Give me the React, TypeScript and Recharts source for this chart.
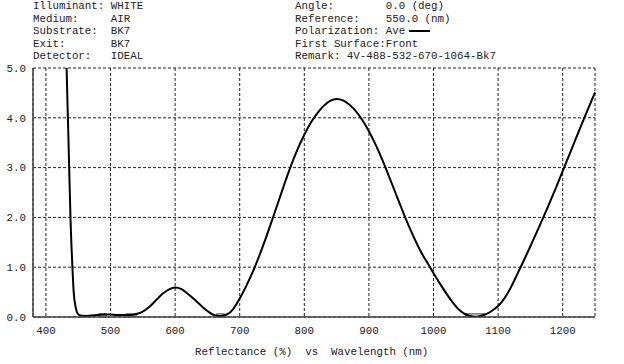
import React from "react";
import {
  LineChart,
  Line,
  XAxis,
  YAxis,
  CartesianGrid,
  ReferenceArea,
} from "recharts";

// wavelength (nm) and reflectance (%)
const wavelengths = [
  425, 430, 432, 434, 436, 438, 441, 443, 446, 449, 453, 460, 470, 480, 490,
  500, 510, 520, 530, 540, 550, 560, 570, 580, 590, 600, 610, 620, 630, 640,
  650, 660, 670, 680, 690, 700, 710, 720, 730, 740, 750, 760, 770, 780, 790,
  800, 810, 820, 830, 840, 850, 860, 870, 880, 890, 900, 910, 920, 930, 940,
  950, 960, 970, 980, 990, 1000, 1010, 1020, 1030, 1040, 1050, 1060, 1065,
  1070, 1080, 1090, 1100, 1110, 1120, 1130, 1140, 1150, 1160, 1170, 1180,
  1190, 1200, 1210, 1220, 1230, 1240, 1250,
];
const reflectance = [
  8.0, 6.0, 5.0, 4.0, 3.0, 2.0, 1.0, 0.5, 0.2, 0.07, 0.03, 0.02, 0.03, 0.04,
  0.05, 0.05, 0.04, 0.04, 0.04, 0.06, 0.11, 0.2, 0.33, 0.46, 0.55, 0.59, 0.56,
  0.46, 0.35, 0.23, 0.12, 0.04, 0.02, 0.05, 0.16, 0.37, 0.62, 0.9, 1.22, 1.57,
  1.94, 2.32, 2.7, 3.06, 3.38, 3.66, 3.9, 4.09, 4.24, 4.34, 4.38, 4.35, 4.26,
  4.13, 3.95, 3.73, 3.47, 3.18, 2.86, 2.53, 2.2, 1.88, 1.59, 1.32, 1.1, 0.88,
  0.67, 0.47, 0.29, 0.14, 0.05, 0.01, 0.0, 0.01, 0.05, 0.12, 0.22, 0.38, 0.6,
  0.87, 1.14, 1.42, 1.71, 2.0, 2.3, 2.61, 2.93, 3.25, 3.57, 3.89, 4.2, 4.51,
];

// design targets from the remark line (centre, half width in nm)
const targetCentres = [488, 532, 670, 1064];
const targetHalfWidths = [6, 8, 6, 15];

const xTicks = [400, 500, 600, 700, 800, 900, 1000, 1100, 1200];
const yTicks = [0, 1, 2, 3, 4, 5];

const headerLeft = [
  "Illuminant: WHITE",
  "Medium:     AIR",
  "Substrate:  BK7",
  "Exit:       BK7",
  "Detector:   IDEAL",
];
const headerRight = [
  "Angle:        0.0 (deg)",
  "Reference:    550.0 (nm)",
  "Polarization: Ave",
  "First Surface:Front",
  "Remark: 4V-488-532-670-1064-Bk7",
];

const data = wavelengths.map((w, i) => ({ wl: w, r: reflectance[i] }));

const mono = '"Liberation Mono", "Courier New", monospace';
const textStyle: React.CSSProperties = {
  position: "absolute",
  fontFamily: mono,
  fontSize: 10.8,
  lineHeight: "12.5px",
  color: "#222",
  whiteSpace: "pre",
};

export default function App() {
  return (
    <div
      style={{
        position: "absolute",
        left: 0,
        top: 0,
        width: 624,
        height: 364,
        background: "#fff",
      }}
    >
      {/* header block */}
      <div style={{ ...textStyle, left: 33, top: 0 }}>
        {headerLeft.map((t) => (
          <div key={t}>{t}</div>
        ))}
      </div>
      <div style={{ ...textStyle, left: 295, top: 0 }}>
        {headerRight.map((t) => (
          <div key={t}>
            {t}
            {t.startsWith("Polarization") && (
              <span
                style={{
                  display: "inline-block",
                  width: 21,
                  height: 2,
                  background: "#000",
                  marginLeft: 4,
                  verticalAlign: "middle",
                }}
              />
            )}
          </div>
        ))}
      </div>

      <LineChart
        width={624}
        height={364}
        data={data}
        margin={{ top: 68, right: 29, left: 0, bottom: 0 }}
      >
        <CartesianGrid stroke="#222" strokeDasharray="3 2" strokeWidth={1} />

        <XAxis
          dataKey="wl"
          type="number"
          domain={[380, 1250]}
          ticks={xTicks}
          height={47}
          tickLine={false}
          tickSize={0}
          tickMargin={9}
          axisLine={{ stroke: "#444", strokeWidth: 1.5 }}
          tick={{ fontSize: 10.8, fontFamily: mono, fill: "#222" }}
        />
        <YAxis
          type="number"
          domain={[0, 5]}
          ticks={yTicks}
          allowDataOverflow
          width={33}
          tickLine={false}
          tickSize={0}
          tickMargin={7}
          axisLine={{ stroke: "#444", strokeWidth: 1.5 }}
          tickFormatter={(v: number) => v.toFixed(1)}
          tick={{ fontSize: 10.8, fontFamily: mono, fill: "#222" }}
        />

        {targetCentres.map((c, i) => (
          <ReferenceArea
            key={c}
            x1={c - targetHalfWidths[i]}
            x2={c + targetHalfWidths[i]}
            y1={0}
            y2={0.07}
            fill="#aaa"
            fillOpacity={1}
            stroke="#888"
          />
        ))}

        <Line
          type="monotone"
          dataKey="r"
          stroke="#000"
          strokeWidth={2}
          dot={false}
          isAnimationActive={false}
        />
      </LineChart>

      <div style={{ ...textStyle, left: 195, top: 346 }}>
        {"Reflectance (%)  vs  Wavelength (nm)"}
      </div>
    </div>
  );
}
